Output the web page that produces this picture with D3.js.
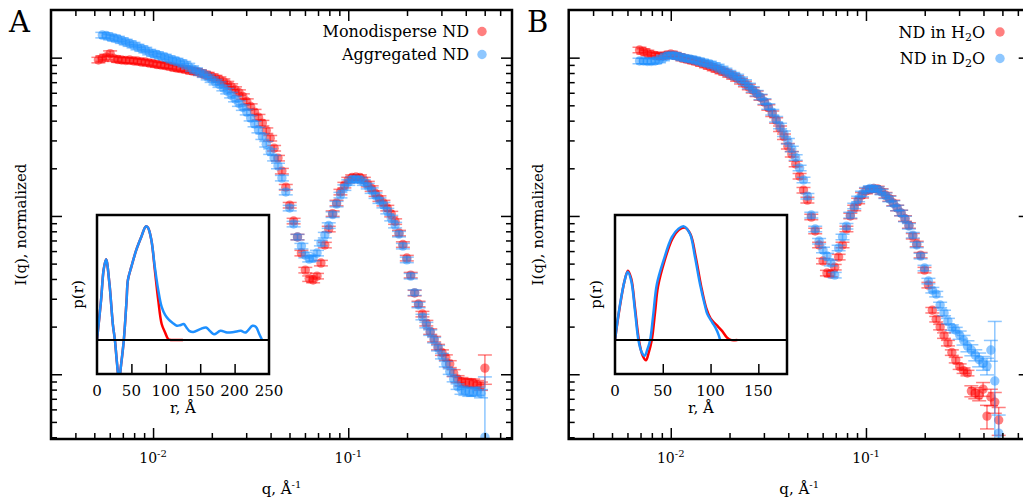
<!DOCTYPE html>
<html><head><meta charset="utf-8">
<script src="https://cdn.jsdelivr.net/npm/d3@7"></script>
<style>
body{margin:0;background:#fff;}
svg{display:block;font-family:"DejaVu Serif",serif;}
</style></head><body>
<svg id="chart" width="1023" height="502"></svg>
<script>
// ---------------- DATA ----------------
// q grid (1/Å), shared by all four SANS curves
const qGrid = [0.005248,0.005495,0.005754,0.006026,0.006310,0.006607,0.006918,0.007244,0.007586,0.007943,
0.008318,0.008710,0.009120,0.009550,0.01000,0.01047,0.01096,0.01148,0.01202,0.01259,
0.01318,0.01380,0.01445,0.01514,0.01585,0.01660,0.01738,0.01820,0.01905,0.01995,
0.02089,0.02188,0.02291,0.02399,0.02512,0.02630,0.02754,0.02884,0.03020,0.03162,
0.03311,0.03467,0.03631,0.03802,0.03981,0.04169,0.04365,0.04571,0.04786,0.05012,
0.05248,0.05495,0.05754,0.06026,0.06310,0.06607,0.06918,0.07244,0.07586,0.07943,
0.08318,0.08710,0.09120,0.09550,0.1000,0.1047,0.1096,0.1148,0.1202,0.1259,
0.1318,0.1380,0.1445,0.1514,0.1585,0.1660,0.1738,0.1820,0.1905,0.1995,
0.2089,0.2188,0.2291,0.2399,0.2512,0.2630,0.2754,0.2884,0.3020,0.3162,
0.3311,0.3467,0.3631,0.3802,0.3981,0.4169,0.4365,0.4571,0.4786,0.5012];

// Panel A: normalized I(q)
const monoA_I = [0.966,0.987,1.009,1.061,0.987,0.973,0.966,0.959,0.966,0.952,
0.952,0.938,0.938,0.924,0.918,0.905,0.898,0.892,0.885,0.872,
0.860,0.853,0.847,0.835,0.823,0.817,0.805,0.788,0.776,0.760,
0.743,0.727,0.706,0.681,0.657,0.629,0.602,0.568,0.528,0.491,
0.453,0.421,0.386,0.346,0.310,0.268,0.232,0.192,0.152,0.117,
0.0929,0.0736,0.0583,0.0455,0.0402,0.0394,0.0417,0.0504,0.0655,0.0827,
0.1035,0.1207,0.1416,0.1567,0.1686,0.1748,0.1761,0.1748,0.1686,0.1590,
0.1490,0.1385,0.1288,0.1207,0.1122,0.1028,0.0922,0.0780,0.0660,0.0542,
0.0423,0.0326,0.0278,0.0240,0.02105,0.01861,0.01668,0.01485,0.01371,0.01275,
0.01160,0.01018,0.00933,0.00899,0.00886,0.00880,0.00880,0.00861,0.00842,0.01094];
const aggA_I = [null,1.389,1.379,1.349,1.330,1.311,1.282,1.255,1.228,1.201,
1.167,1.142,1.117,1.085,1.061,1.046,1.024,1.009,0.987,0.966,
0.952,0.931,0.911,0.885,0.853,0.829,0.805,0.782,0.754,0.727,
0.701,0.676,0.643,0.615,0.580,0.548,0.513,0.484,0.453,0.415,
0.381,0.349,0.317,0.284,0.255,0.232,0.207,0.1735,0.1416,0.1122,
0.0889,0.0736,0.0645,0.0566,0.0534,0.0542,0.0583,0.0674,0.0757,0.0870,
0.1020,0.1189,0.1355,0.1511,0.1626,0.1698,0.1710,0.1686,0.1626,0.1544,
0.1447,0.1345,0.1251,0.1172,0.1074,0.0970,0.0876,0.0768,0.0645,0.0528,
0.0417,0.0328,0.0274,0.0230,0.02046,0.01834,0.01644,0.01463,0.01303,0.01160,
0.01040,0.00933,0.00836,0.00795,0.00783,0.00772,0.00772,0.00783,0.00755,0.00401];

// Panel B
const h2oB_I = [null,null,null,null,null,null,1.117,1.093,1.069,1.046,
1.031,1.024,1.024,1.038,1.054,1.038,1.016,0.994,0.980,0.966,
0.952,0.938,0.918,0.898,0.879,0.860,0.841,0.823,0.805,0.782,
0.760,0.738,0.711,0.681,0.652,0.624,0.593,0.560,0.524,0.484,
0.443,0.401,0.356,0.317,0.276,0.246,0.213,0.1786,0.1457,0.1260,
0.0984,0.0803,0.0655,0.0519,0.0436,0.0430,0.0475,0.0550,0.0655,0.0827,
0.0999,0.1122,0.1242,0.1355,0.1437,0.1468,0.1490,0.1479,0.1426,0.1355,
0.1288,0.1207,0.1122,0.1043,0.0963,0.0870,0.0746,0.0665,0.0566,0.0455,
0.0366,0.0254,0.0223,0.01987,0.01756,0.01574,0.01371,0.01229,0.01118,0.01055,
0.01018,0.00783,0.00761,0.00739,0.00806,0.00544,0.00718,0.00667,0.00514,null];
const d2oB_I = [null,null,null,null,null,null,0.952,0.952,0.945,0.945,
0.952,0.966,0.994,1.024,1.038,1.031,1.016,1.001,0.987,0.980,
0.966,0.952,0.938,0.924,0.911,0.892,0.872,0.847,0.823,0.799,
0.776,0.754,0.727,0.696,0.662,0.629,0.597,0.564,0.528,0.491,
0.453,0.409,0.370,0.331,0.297,0.265,0.234,0.2007,0.1686,0.1335,
0.1013,0.0827,0.0694,0.0609,0.0558,0.0504,0.0423,0.0627,0.0736,0.0863,
0.1013,0.1155,0.1279,0.1375,0.1457,0.1490,0.1490,0.1468,0.1416,0.1345,
0.1279,0.1198,0.1122,0.1043,0.0956,0.0863,0.0757,0.0655,0.0558,0.0469,
0.0388,0.0340,0.0321,0.0274,0.0244,0.02168,0.01972,0.01902,0.01769,0.01644,
0.01507,0.01422,0.01322,0.01238,0.01177,0.01126,0.01422,0.00906,0.00425,null];

// relative errors: typical value, plus larger ones at high q ([index, relErr])
const typicalRelErr = 0.04;
const monoA_bigErr = [[90,0.05],[91,0.05],[92,0.05],[93,0.06],[94,0.06],[95,0.06],[96,0.06],[97,0.06],[98,0.06],[99,0.21]];
const aggA_bigErr  = [[93,0.06],[94,0.06],[95,0.06],[96,0.06],[97,0.06],[98,0.06],[99,1.4]];
const h2oB_bigErr  = [[91,0.08],[92,0.08],[93,0.08],[94,0.1],[95,0.17],[96,0.12],[97,0.15],[98,0.2]];
const d2oB_bigErr  = [[88,0.06],[89,0.07],[90,0.08],[91,0.08],[92,0.08],[93,0.1],[94,0.1],[95,0.12],[96,0.15],[97,1.38],[98,0.3]];

// Insets: pair distance distribution p(r), [r (Å), p(r) normalized]
const prMonoA = [[0,0],[5.9,0.35],[9.7,0.62],[13.2,0.71],[18,0.50],[23,0.14],[26,0],[29,-0.2],[32,-0.36],[35,-0.22],[39,0],[43,0.35],[45,0.53],[50,0.645],[57,0.79],[64.6,0.91],[71,1.0],[74,0.99],[79,0.88],[84,0.62],[89,0.35],[94,0.14],[99,0.065],[103.6,0.006],[107,0],[125,0]];
const prAggA = [[0,0],[5.9,0.35],[9.7,0.62],[13.2,0.71],[18,0.50],[23,0.14],[26,0],[29,-0.2],[32,-0.36],[35,-0.22],[39,0],[43,0.35],[45,0.53],[50,0.645],[57,0.79],[64.6,0.91],[71,1.0],[74,0.99],[79,0.88],[84,0.645],[89,0.44],[94,0.29],[99,0.22],[104,0.18],[110,0.15],[116,0.125],[121,0.13],[126,0.14],[130,0.11],[134,0.08],[140,0.07],[150,0.095],[158.5,0.11],[164,0.08],[170,0.05],[179.5,0.08],[189,0.065],[199,0.07],[209,0.08],[216,0.065],[226,0.125],[231,0.115],[236,0.05],[240,0]];
const prH2oB = [[0,0],[5,0.29],[10,0.52],[13.5,0.61],[17,0.54],[21,0.28],[25,0],[29,-0.14],[32.5,-0.18],[35,-0.12],[38.5,0],[42,0.25],[45,0.47],[52,0.70],[60,0.89],[67,0.97],[73,0.99],[79,0.93],[84.5,0.73],[90,0.48],[95.5,0.28],[100,0.19],[104,0.15],[107,0.125],[112,0.08],[117,0.023],[121,0],[128,0]];
const prD2oB = [[0,0],[5,0.30],[10,0.52],[13.3,0.60],[17,0.52],[21,0.25],[24.5,0],[28,-0.11],[31,-0.14],[34,-0.08],[36.8,0],[40,0.22],[43.8,0.49],[50.8,0.70],[59.5,0.905],[66.5,0.98],[72,1.0],[78.4,0.935],[83.7,0.73],[89,0.49],[94.5,0.29],[96.5,0.23],[101.7,0.155],[105,0.11],[108.6,0.04],[110,0]];

const insetTicksA = [0,50,100,150,200,250];
const insetTicksB = [0,50,100,150];
const xMajorTicks = [0.01,0.1];
const yMajorTicks = [1,0.1,0.01];

// ---------------- STYLE ----------------
const RED_PT = "rgba(255,0,0,0.5)", BLUE_PT = "rgba(30,144,255,0.5)";
const RED_LN = "#ff0000", BLUE_LN = "#1e90ff";

const svg = d3.select("#chart");
const PW = 461, PH = 429;

function minorTicks(lo, hi){
  const out=[];
  for(let d=-4; d<=1; d++) for(let m=2;m<=9;m++){const v=m*Math.pow(10,d); if(v>lo*1.0001 && v<hi*0.9999) out.push(v);}
  return out;
}

const panels = [
  {letter:"A", left:51, letterX:9,
   series:[{name:[["Monodisperse ND",""]], I:monoA_I, err:monoA_bigErr, color:RED_PT},
           {name:[["Aggregated ND",""]], I:aggA_I, err:aggA_bigErr, color:BLUE_PT}],
   legendTextX:469, legendMarkX:482, legendY:[37,60],
   inset:{left:97, rMax:250, ticks:insetTicksA, curves:[[prMonoA,RED_LN],[prAggA,BLUE_LN]]}},
  {letter:"B", left:568.7, letterX:527,
   series:[{name:[["ND in H",""],["2","sub"],["O",""]], I:h2oB_I, err:h2oB_bigErr, color:RED_PT},
           {name:[["ND in D",""],["2","sub"],["O",""]], I:d2oB_I, err:d2oB_bigErr, color:BLUE_PT}],
   legendTextX:985, legendMarkX:1000, legendY:[37.5,64],
   inset:{left:615, rMax:180, ticks:insetTicksB, curves:[[prH2oB,RED_LN],[prD2oB,BLUE_LN]]}}
];

panels.forEach((p,pi)=>{
  const top=10;
  const g = svg.append("g").attr("transform",`translate(${p.left},${top})`);
  const x = d3.scaleLog().domain([0.003,0.69]).range([0,PW]);
  const y = d3.scaleLog().domain([0.0039,2]).range([PH,0]);

  const clipId = "clip"+pi;
  g.append("clipPath").attr("id",clipId).append("rect").attr("width",PW).attr("height",PH);
  const plot = g.append("g").attr("clip-path",`url(#${clipId})`);

  p.series.forEach(s=>{
    const errMap = new Map(s.err);
    const pts = qGrid.map((q,i)=>({q, I:s.I[i], rel: errMap.has(i)?errMap.get(i):typicalRelErr})).filter(d=>d.I!=null);
    const eb = plot.append("g").attr("stroke",s.color).attr("stroke-width",1.5).attr("fill","none");
    pts.forEach(d=>{
      const cx=x(d.q), dI=d.I*d.rel;
      const yTop=y(d.I+dI);
      const lowV=d.I-dI;
      const yBot= lowV>0? y(lowV) : PH+50;
      eb.append("line").attr("x1",cx).attr("x2",cx).attr("y1",yTop).attr("y2",yBot);
      eb.append("line").attr("x1",cx-7).attr("x2",cx+7).attr("y1",yTop).attr("y2",yTop);
      if(lowV>0) eb.append("line").attr("x1",cx-7).attr("x2",cx+7).attr("y1",yBot).attr("y2",yBot);
    });
    plot.append("g").selectAll("circle").data(pts).join("circle")
      .attr("cx",d=>x(d.q)).attr("cy",d=>y(d.I)).attr("r",4.7).attr("fill",s.color);
  });

  // ticks (inward)
  const xMin = minorTicks(0.003,0.69), yMin = minorTicks(0.0039,2);
  const tickG = g.append("g").attr("class","ticks");
  const mk = (axis, vals, size, tr)=>{
    const a = tickG.append("g").attr("transform",tr).call(axis.tickValues(vals).tickSizeInner(size).tickSizeOuter(0).tickFormat(""));
    a.select(".domain").remove();
    a.selectAll("line").attr("stroke","#000").attr("stroke-width",1.5);
  };
  mk(d3.axisBottom(x), xMajorTicks, -11, `translate(0,${PH})`);
  mk(d3.axisBottom(x), xMin, -6, `translate(0,${PH})`);
  mk(d3.axisTop(x), xMajorTicks, -11, `translate(0,0)`);
  mk(d3.axisTop(x), xMin, -6, `translate(0,0)`);
  mk(d3.axisLeft(y), yMajorTicks, -11, `translate(0,0)`);
  mk(d3.axisLeft(y), yMin, -6, `translate(0,0)`);
  mk(d3.axisRight(y), yMajorTicks, -11, `translate(${PW},0)`);
  mk(d3.axisRight(y), yMin, -6, `translate(${PW},0)`);

  // frame
  g.append("rect").attr("width",PW).attr("height",PH).attr("fill","none").attr("stroke","#000").attr("stroke-width",2.5);

  // x tick labels
  xMajorTicks.forEach(v=>{
    const t = g.append("text").attr("x",x(v)).attr("y",PH+24).attr("text-anchor","middle").attr("font-size",14);
    t.append("tspan").text("10");
    t.append("tspan").attr("dy",-6).attr("font-size",10).text("-"+Math.round(-Math.log10(v)));
  });
  // axis labels
  const xl = g.append("text").attr("x",PW/2).attr("y",PH+55).attr("text-anchor","middle").attr("font-size",15);
  xl.append("tspan").text("q, Å");
  xl.append("tspan").attr("dy",-6).attr("font-size",10).text("-1");
  g.append("text").attr("transform",`translate(-25.5,${PH/2}) rotate(-90)`).attr("text-anchor","middle").attr("font-size",15).text("I(q), normalized");

  // panel letter
  svg.append("text").attr("x",p.letterX).attr("y",32).attr("font-size",29).text(p.letter);

  // legend
  p.series.forEach((s,i)=>{
    const ly=p.legendY[i];
    const t = svg.append("text").attr("x",p.legendTextX).attr("y",ly).attr("text-anchor","end").attr("font-size",16);
    s.name.forEach(([txt,kind],j)=>{
      const ts=t.append("tspan").text(txt);
      if(kind==="sub") ts.attr("font-size",11).attr("dy",3);
      else if(j>0 && s.name[j-1][1]==="sub") ts.attr("dy",-3);
    });
    svg.append("circle").attr("cx",p.legendMarkX).attr("cy",ly-5.5).attr("r",4.7).attr("fill",s.color);
  });

  // inset
  const ins = p.inset, IW=172, IH=159, itop=215;
  const ig = svg.append("g").attr("transform",`translate(${ins.left},${itop})`);
  const rx = d3.scaleLinear().domain([0,ins.rMax]).range([0,IW]);
  const py = d3.scaleLinear().domain([-0.3,1.1]).range([IH,0]);
  ig.append("rect").attr("width",IW).attr("height",IH).attr("fill","#fff");
  const icid="iclip"+pi;
  ig.append("clipPath").attr("id",icid).append("rect").attr("width",IW).attr("height",IH);
  const ic = ig.append("g").attr("clip-path",`url(#${icid})`);
  const line = d3.line().x(d=>rx(d[0])).y(d=>py(d[1])).curve(d3.curveCatmullRom.alpha(0.5));
  ins.curves.forEach(([data,col])=>{
    ic.append("path").datum(data).attr("d",line).attr("fill","none").attr("stroke",col).attr("stroke-width",2.5).attr("stroke-linejoin","round");
  });
  ig.append("line").attr("x1",0).attr("x2",IW).attr("y1",py(0)).attr("y2",py(0)).attr("stroke","#000").attr("stroke-width",2);
  const ia = ig.append("g").attr("transform",`translate(0,${IH})`)
    .call(d3.axisBottom(rx).tickValues(ins.ticks.filter(v=>v>0 && v<ins.rMax)).tickSizeInner(-10).tickSizeOuter(0).tickFormat(""));
  ia.select(".domain").remove();
  ia.selectAll("line").attr("stroke","#000").attr("stroke-width",1.5);
  ig.append("rect").attr("width",IW).attr("height",IH).attr("fill","none").attr("stroke","#000").attr("stroke-width",2.5);
  ins.ticks.forEach(v=>{
    ig.append("text").attr("x",rx(v)).attr("y",IH+22).attr("text-anchor","middle").attr("font-size",15).text(v);
  });
  ig.append("text").attr("x",IW/2).attr("y",IH+39).attr("text-anchor","middle").attr("font-size",15).text("r, Å");
  ig.append("text").attr("transform",`translate(-14,${IH/2}) rotate(-90)`).attr("text-anchor","middle").attr("font-size",15).text("p(r)");
});
</script>
</body></html>
